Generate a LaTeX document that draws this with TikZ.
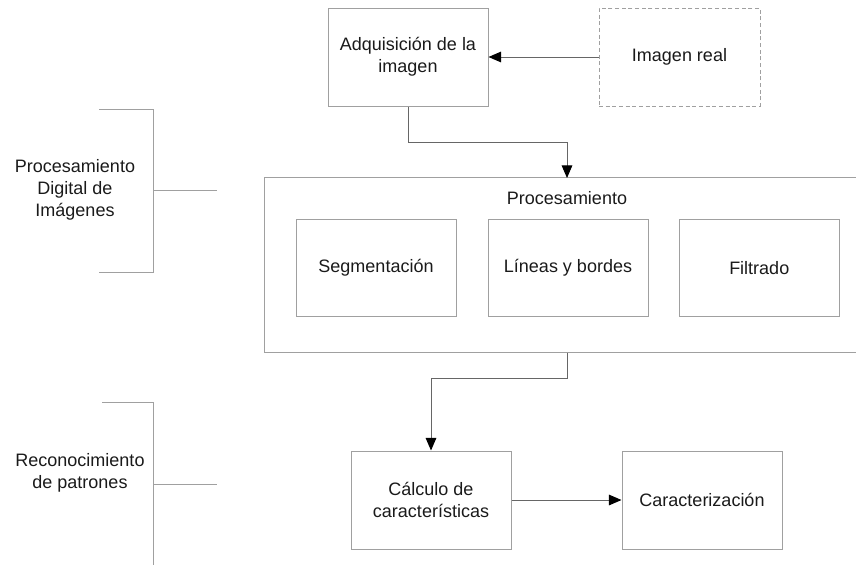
\documentclass[tikz,border=0pt]{standalone}
\usepackage{fontspec}
\setmainfont{Liberation Sans}
\usetikzlibrary{arrows.meta}
\definecolor{boxline}{HTML}{A0A0A0}
\definecolor{wireline}{HTML}{666666}
\definecolor{inktext}{HTML}{1A1A1A}
\tikzset{
  every node/.style={font=\fontsize{13.5pt}{16.5pt}\selectfont, text=inktext},
  block/.style={draw=boxline, line width=0.75pt, minimum width=160*0.75pt,
    minimum height=98*0.75pt, align=center, inner sep=0pt},
  source/.style={block, dashed, dash pattern=on 3pt off 2pt},
  wire/.style={draw=wireline, line width=0.75pt,
    -{Triangle[length=9.5pt,width=8pt,fill=black,color=black]}},
  brace/.style={draw=boxline, line width=0.75pt},
  lbl/.style={align=center, inner sep=0pt}
}
\begin{document}
\begin{tikzpicture}[x=0.75pt,y=-0.75pt]
\useasboundingbox (0,0) rectangle (856,564);
\clip (0,0) rectangle (856,564);

% acquisition row
\node[block] (adq) at (408,57) {Adquisición de la\\imagen};
\node[source, minimum width=161*0.75pt] (real) at (679.5,57) {Imagen real};

% processing frame, open to the right edge
\node[minimum width=592.5*0.75pt, minimum height=174.5*0.75pt, inner sep=0pt]
  (proc) at (560.75,265.25) {};
\draw[boxline, line width=0.75pt] (proc.north east) -- (proc.north west)
  -- (proc.south west) -- (proc.south east);
\node[lbl] (proctitle) at (567,198) {Procesamiento};
\coordinate (procin) at (567,178);
\coordinate (procout) at (567,352.5);

\node[block, minimum height=96.5*0.75pt] (seg) at (376,268) {Segmentación};
\node[block, minimum height=96.5*0.75pt] (lin) at (568,268) {Líneas y bordes};
\node[block, minimum height=96.5*0.75pt, minimum width=159.5*0.75pt] (fil) at (759.25,268) {Filtrado};

% recognition row
\node[block] (calc) at (431,500) {Cálculo de\\características};
\node[block] (car) at (702,500) {Caracterización};

% connectors
\draw[wire] (real.west) -- (adq.east);
\draw[wire] (adq.south) -- (408,142) -- (567,142) -- (procin);
\draw[wire] (procout) -- (567,378) -- (431,378) -- (calc.north);
\draw[wire] (calc.east) -- (car.west);

% side brackets
\coordinate (b1top) at (99,109);
\coordinate (b1bot) at (99,272);
\coordinate (b1mid) at (217,190);
\draw[brace] (b1top) -- (153,109) -- (153,272) -- (b1bot);
\draw[brace] (153,190) -- (b1mid);
\node[lbl] (pdi) at (75,190) {Procesamiento\\Digital de\\Imágenes};

\coordinate (b2top) at (102,402);
\coordinate (b2bot) at (153,568);
\coordinate (b2mid) at (217,484);
\draw[brace] (b2top) -- (153,402) -- (b2bot);
\draw[brace] (153,484) -- (b2mid);
\node[lbl] (rp) at (80,473) {Reconocimiento\\de patrones};
\end{tikzpicture}
\end{document}
